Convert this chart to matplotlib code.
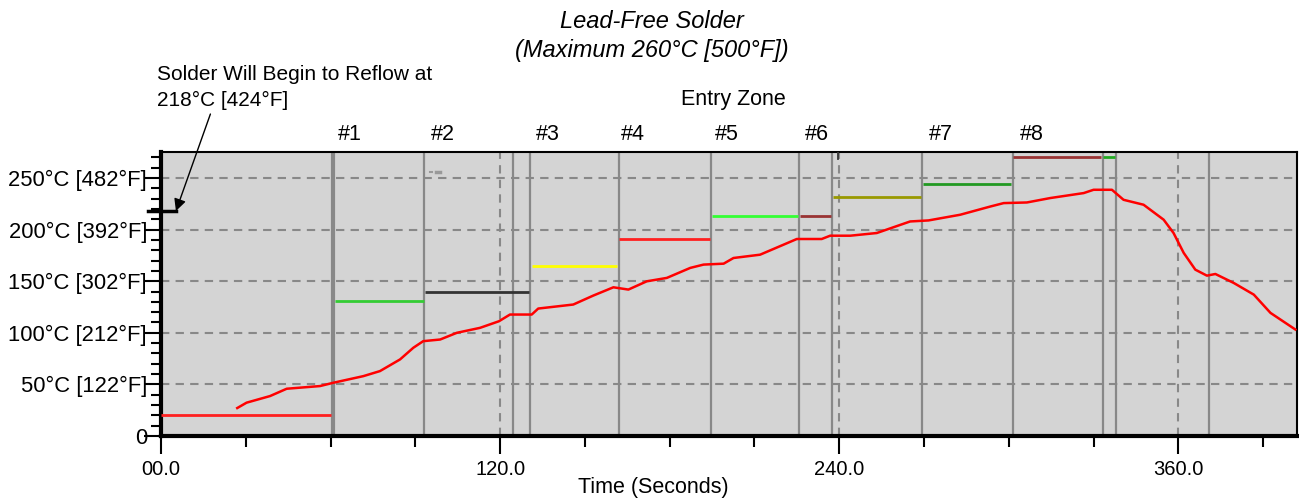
import matplotlib
matplotlib.use('Agg')
import matplotlib.pyplot as plt
import matplotlib.transforms as mtransforms
from matplotlib.ticker import MultipleLocator

plt.rcParams['font.family'] = ['Liberation Sans', 'DejaVu Sans']

# measured oven profile (time s, temperature C)
profile_t = [27.0, 30.3, 38.6, 44.5, 56.3, 61.0, 71.6, 77.5, 84.6, 89.3, 92.8, 98.8,
             104.7, 112.9, 119.6, 123.5, 131.2, 133.5, 145.9, 153.0, 160.1, 165.4,
             171.9, 179.0, 187.3, 192.0, 199.1, 202.6, 212.0, 220.3, 225.0, 233.8,
             236.8, 243.9, 253.3, 265.1, 271.6, 282.8, 293.5, 298.2, 306.4, 314.7,
             326.5, 330.0, 336.5, 340.6, 347.7, 354.8, 358.3, 361.9, 366.0, 370.1,
             373.1, 379.6, 386.7, 392.6, 401.4]
profile_T = [27.1, 32.3, 38.7, 45.8, 48.4, 51.6, 58.0, 62.9, 74.2, 85.5, 91.9, 93.5,
             100.0, 104.8, 111.2, 117.7, 117.7, 123.5, 127.4, 136.1, 144.1, 141.9,
             149.9, 153.2, 162.9, 166.1, 167.0, 172.5, 175.7, 185.4, 190.9, 190.9,
             194.1, 194.1, 196.7, 207.9, 208.9, 214.4, 222.4, 225.7, 226.3, 230.6,
             235.4, 238.6, 238.6, 228.9, 224.1, 209.6, 196.7, 177.4, 161.2, 155.4,
             157.0, 148.3, 137.0, 119.3, 103.2]

# zone set points
zone_start = [0, 61.6, 93.5, 131.3, 162.0, 195.0, 226.0, 237.9, 269.7, 301.6, 333.5]
zone_end = [60.0, 93.0, 130.3, 161.4, 194.2, 225.5, 237.0, 269.0, 300.9, 332.8, 337.7]
zone_temp = [20, 131, 140, 164.8, 190.5, 212.8, 212.8, 231.5, 244.4, 270.5, 270.5]
zone_colors = ['#ff2020', '#33cc33', '#333333', '#ffff00', '#ff2020', '#33ff33',
               '#993333', '#999900', '#229922', '#993333', '#22aa22']

dividers = [60.8, 93.2, 124.6, 130.6, 162.0, 194.6, 225.8, 237.4, 269.4, 301.4,
            333.2, 338.0, 370.7]

zone_names = ['#1', '#2', '#3', '#4', '#5', '#6', '#7', '#8']
zone_label_x = [66.9, 99.8, 137.0, 167.0, 200.4, 232.2, 275.8, 308.3]

y_ticks = [0, 50, 100, 150, 200, 250]
y_labels = ['0', '50°C [122°F]', '100°C [212°F]', '150°C [302°F]',
            '200°C [392°F]', '250°C [482°F]']
x_ticks = [0, 120, 240, 360]
x_labels = ['00.0', '120.0', '240.0', '360.0']

fig = plt.figure(figsize=(12.99, 5.0), dpi=100)
ax = fig.add_axes([0.1239, 0.128, 0.8746, 0.5686])
ax.set_facecolor('#d4d4d4')
ax.set_xlim(0, 402)
ax.set_ylim(0, 275.5)

# dashed grid
for y in y_ticks[1:]:
    ax.axhline(y, color='#888888', lw=1.5, ls=(0, (4, 3)), zorder=1)
for x in x_ticks[1:]:
    ax.axvline(x, color='#888888', lw=1.5, ls=(0, (4, 3)), zorder=1)

for i, x in enumerate(dividers):
    ax.axvline(x, color='#888888', lw=3 if i == 0 else 1.6, zorder=2)

for s, e, t, c in zip(zone_start, zone_end, zone_temp, zone_colors):
    ax.plot([s, e], [t, t], color=c, lw=2, zorder=3, solid_capstyle='butt')

ax.plot(profile_t, profile_T, color='#ff0000', lw=1.8, zorder=4)

# small stray marks from the logger display
ax.plot([239.6, 239.6], [268.5, 275.5], color='#333333', lw=1.3, zorder=3)
ax.plot([95.2, 96.0], [255.5, 255.5], color='#999999', lw=1.5, zorder=3)
ax.plot([97.2, 98.8], [255.5, 255.5], color='#999999', lw=2.5, zorder=3)

# reflow marker at 218 C
ax.plot([-4.6, 5.3], [218, 218], color='black', lw=2.5, clip_on=False, zorder=5)
ax.annotate('', xy=(5.3, 218), xytext=(17.5, 312), xycoords='data',
            textcoords='data', annotation_clip=False,
            arrowprops=dict(arrowstyle='-|>', color='black', lw=1.0,
                            mutation_scale=18, shrinkA=0, shrinkB=0))

for spine in ax.spines.values():
    spine.set_linewidth(1.5)
ax.spines['left'].set_linewidth(3)
ax.spines['bottom'].set_linewidth(3)

ax.set_yticks(y_ticks)
ax.set_yticklabels(y_labels, fontsize=15.8)
ax.yaxis.set_minor_locator(MultipleLocator(10))
ax.set_xticks(x_ticks)
ax.set_xticklabels(x_labels, fontsize=14.5)
ax.xaxis.set_minor_locator(MultipleLocator(30))
ax.tick_params(axis='y', which='major', length=12, width=1.5, pad=-2)
ax.tick_params(axis='y', which='minor', length=7, width=1.5)
ax.tick_params(axis='x', which='major', length=13, width=1.5, pad=4)
ax.tick_params(axis='x', which='minor', length=8, width=1.5)
ax.set_xlabel('Time (Seconds)', fontsize=15.5, va='top')
ax.xaxis.set_label_coords(0.433, -0.143)

zone_trans = mtransforms.blended_transform_factory(ax.transData, fig.transFigure)
for name, x in zip(zone_names, zone_label_x):
    ax.text(x, 0.732, name, transform=zone_trans, fontsize=15.5,
            ha='center', va='center')
ax.text(202.5, 0.802, 'Entry Zone', transform=zone_trans,
        fontsize=15.5, ha='center', va='center')

fig.text(0.502, 0.958, 'Lead-Free Solder', fontsize=17, style='italic',
         ha='center', va='center')
fig.text(0.502, 0.898, '(Maximum 260°C [500°F])', fontsize=17, style='italic',
         ha='center', va='center')
fig.text(0.1209, 0.85, 'Solder Will Begin to Reflow at', fontsize=15,
         ha='left', va='center')
fig.text(0.1209, 0.80, '218°C [424°F]', fontsize=15, ha='left', va='center')

fig.savefig('out.png', dpi=100)
